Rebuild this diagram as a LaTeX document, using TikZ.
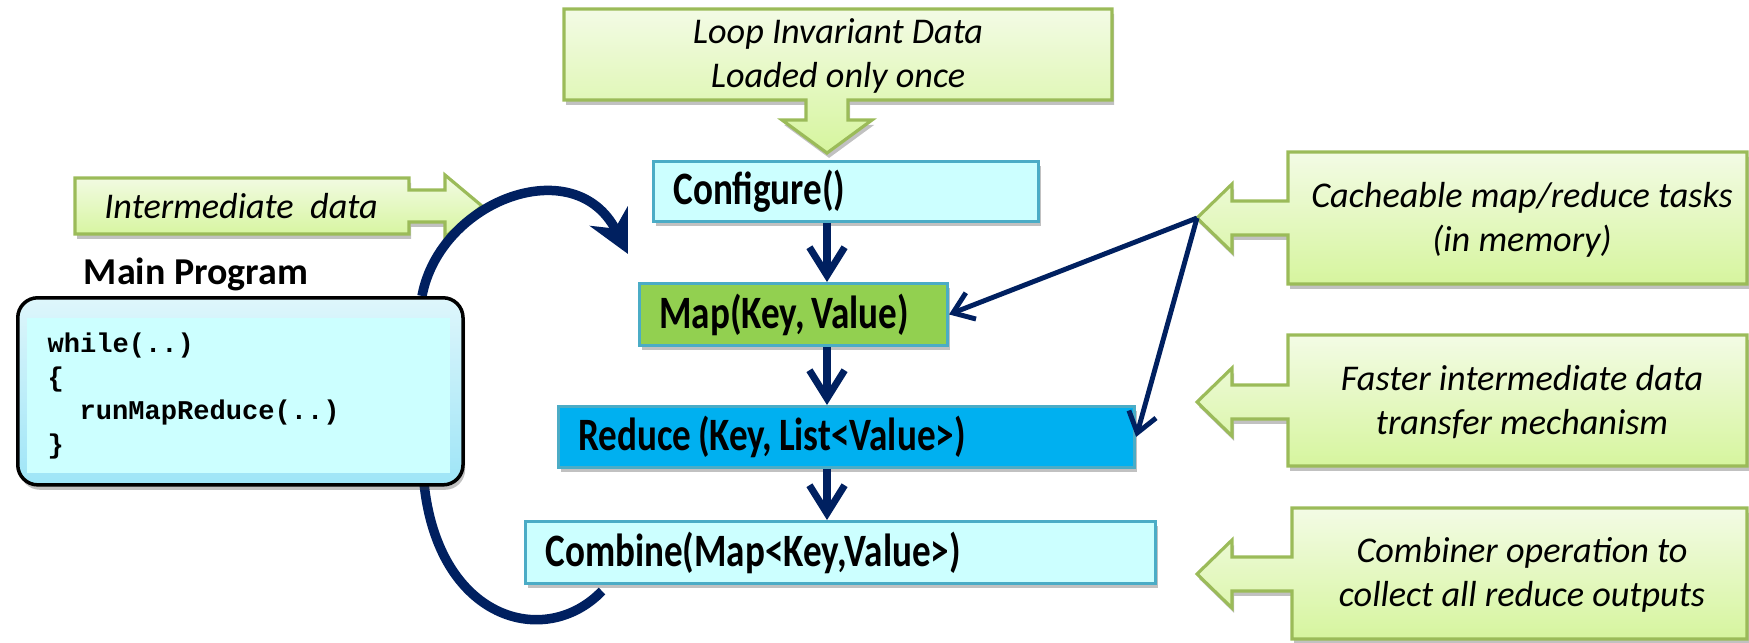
\documentclass[tikz,border=0pt]{standalone}
\usepackage{fontspec}
\setmainfont{Carlito}
\newfontfamily\condfont[FakeStretch=0.8]{Carlito}
\newfontfamily\codefont{Liberation Mono}
\usetikzlibrary{arrows.meta,shadows}
\definecolor{navy}{RGB}{0,32,96}
\definecolor{procborder}{RGB}{75,172,198}
\definecolor{lightcyan}{RGB}{204,255,255}
\definecolor{mapgreen}{RGB}{146,208,80}
\definecolor{redblue}{RGB}{0,176,240}
\definecolor{cTop}{RGB}{243,251,229}
\definecolor{cBot}{RGB}{214,245,158}
\definecolor{cBorder}{RGB}{155,187,89}
\definecolor{mainTop}{RGB}{222,246,251}
\definecolor{mainBot}{RGB}{158,229,247}
\newcommand{\tightspaces}{\spaceskip=0.14em\relax}
\tikzset{
  softshadow/.style={drop shadow={shadow xshift=0.6pt, shadow yshift=-1.4pt, opacity=0.35, fill=black!70}},
  procbox/.style={draw=procborder, line width=0.8pt, inner xsep=0.2cm, inner ysep=0pt,
    anchor=north west, align=left, softshadow,
    font=\condfont\bfseries\fontsize{13.2}{15}\selectfont,
    execute at begin node=\tightspaces},
  callout/.style={draw=cBorder, line width=0.9pt, top color=cTop, bottom color=cBot, softshadow},
  ctext/.style={align=center, font=\itshape\fontsize{10.3}{12.4}\selectfont, inner sep=0pt},
  flowarrow/.style={draw=navy, line width=2pt, -{Straight Barb[length=8pt,width=10pt,line width=2pt]}},
  thinarrow/.style={draw=navy, line width=1.4pt, -{Straight Barb[length=5.5pt,width=8pt,line width=1.4pt]}},
  looparc/.style={draw=navy, line width=2.7pt},
  codeline/.style={anchor=base west, inner sep=0pt, font=\codefont\bfseries\fontsize{7.7}{9.6}\selectfont},
}
\newcommand{\leftcallout}[5]{% #1 left x, #2 top y, #3 bottom y, #4 centre y, #5 tip name
  \path[callout] (#1,#2) -- (1747,#2) -- (1747,#3) -- (#1,#3) -- (#1,#4+17) -- (1232,#4+17)
    -- (1232,#4+34) -- (1197,#4) -- (1232,#4-34) -- (1232,#4-17) -- (#1,#4-17) -- cycle;
  \coordinate (#5) at (1197,#4);}
\begin{document}
\begin{tikzpicture}[x=0.01cm,y=-0.01cm]
\useasboundingbox (0,0) rectangle (1749,642);

% top callout
\path[callout] (564,9) -- (1112,9) -- (1112,100) -- (848,100) -- (848,120) -- (872,120)
  -- (827,153) -- (782,120) -- (806,120) -- (806,100) -- (564,100) -- cycle;
\coordinate (loopTip) at (827,153);
\node[ctext] (loop) at (838,56) {Loop Invariant Data\\Loaded only once};

% intermediate data callout
\path[callout] (75,178) -- (409,178) -- (409,190) -- (445,190) -- (445,175) -- (482,206)
  -- (445,237) -- (445,222) -- (409,222) -- (409,234) -- (75,234) -- cycle;
\node[ctext] (inter) at (241,206) {Intermediate\ \ data};

% right callouts
\leftcallout{1288}{152}{284}{218}{cacheTip}
\node[ctext] (cache) at (1522,220) {Cacheable map/reduce tasks\\(in memory)};
\leftcallout{1288}{335}{466}{402}{fastTip}
\node[ctext] (fast) at (1522,402) {Faster intermediate data\\transfer mechanism};
\leftcallout{1292}{508}{639}{574}{combTip}
\node[ctext] (comb) at (1522,575) {Combiner operation to\\collect all reduce outputs};

% process boxes
\node[procbox, fill=lightcyan, minimum width=3.85cm, minimum height=0.60cm, text width=3.45cm] (conf) at (652,160) {Configure()};
\node[procbox, fill=mapgreen, minimum width=3.08cm, minimum height=0.62cm, text width=2.68cm] (map) at (638,282) {Map(Key, Value)};
\node[procbox, fill=redblue, minimum width=5.76cm, minimum height=0.61cm, text width=5.36cm] (red) at (557,405) {Reduce (Key, List<Value>)};
\node[procbox, fill=lightcyan, minimum width=6.30cm, minimum height=0.62cm, text width=5.90cm] (combine) at (524,520) {Combine(Map<Key,Value>)};

\draw[flowarrow] (conf.south -| loopTip) -- (map.north -| loopTip);
\draw[flowarrow] (map.south -| loopTip) -- (red.north -| loopTip);
\draw[flowarrow] (red.south -| loopTip) -- (combine.north -| loopTip);

\draw[thinarrow] (cacheTip) -- (map.east);
\draw[thinarrow] (cacheTip) -- (red.east);

% loop arcs (behind main program box)
\coordinate (arcStart) at (602,591);
\coordinate (arcLow) at (424,483);
\coordinate (arcHigh) at (422,296);
\coordinate (arcTip) at (628,254);
\draw[looparc] (arcStart) .. controls (545,650) and (438,620) .. (arcLow);
\draw[looparc, -{Stealth[length=12pt,width=12pt]}] (arcHigh) .. controls (440,200) and (575,150) .. (arcTip);

% main program
\node[font=\bfseries\fontsize{10.8}{13}\selectfont, inner sep=0pt] (mainlabel) at (196,274) {Main Program};
\node[draw=black, line width=1pt, rounded corners=0.2cm, top color=mainTop, bottom color=mainBot,
  minimum width=4.45cm, minimum height=1.87cm, anchor=north west, softshadow, inner sep=0pt] (main) at (16,296) {};
\fill[lightcyan] (27,318) rectangle (450,473);
\node[codeline] (c1) at (47,352) {while(..)};
\node[codeline] (c2) at (47,386) {\{};
\node[codeline] (c3) at (79,419) {runMapReduce(..)};
\node[codeline] (c4) at (47,453) {\}};
\end{tikzpicture}
\end{document}
